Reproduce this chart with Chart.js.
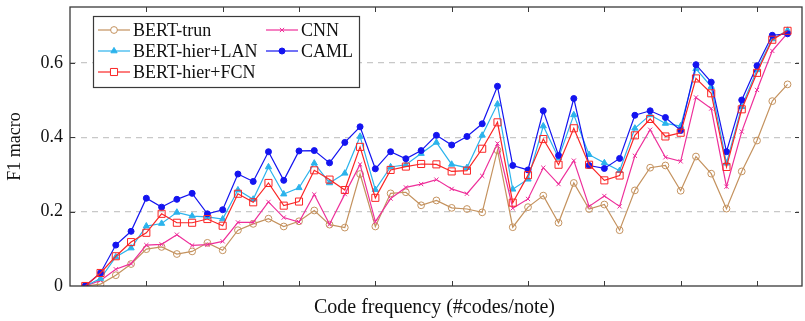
<!DOCTYPE html>
<html>
<head>
<meta charset="utf-8">
<script src="https://cdn.jsdelivr.net/npm/chart.js@4.4.1/dist/chart.umd.min.js"></script>
<style>
  html, body { margin: 0; padding: 0; background: #fff; }
  #wrap { position: relative; width: 805px; height: 321px; }
</style>
</head>
<body>
<div id="wrap"><canvas id="chart" width="805" height="321"></canvas></div>
<script>
// code frequency bins (x positions, no tick labels on the axis)
const codeBins = [1, 2, 3, 4, 5, 6, 7, 8, 9, 10, 11, 12, 13, 14, 15, 16, 17, 18, 19, 20,
  21, 22, 23, 24, 25, 26, 27, 28, 29, 30, 31, 32, 33, 34, 35, 36, 37, 38, 39, 40,
  41, 42, 43, 44, 45, 46, 47];
const xTicks = [5, 10, 15, 20, 25, 30, 35, 40, 45];
const yTicks = [0, 0.2, 0.4, 0.6];

const bertTrun = [0, 0.005, 0.029, 0.059, 0.099, 0.105, 0.086, 0.093, 0.116, 0.096,
  0.150, 0.167, 0.181, 0.160, 0.174, 0.203, 0.165, 0.157, 0.301, 0.160,
  0.249, 0.252, 0.217, 0.230, 0.210, 0.207, 0.198, 0.365, 0.158, 0.212,
  0.243, 0.170, 0.277, 0.207, 0.219, 0.150, 0.257, 0.318, 0.324, 0.256,
  0.348, 0.302, 0.208, 0.308, 0.391, 0.497, 0.542];
const bertLan = [0, 0.020, 0.078, 0.102, 0.161, 0.168, 0.198, 0.188, 0.186, 0.180,
  0.258, 0.233, 0.320, 0.247, 0.264, 0.330, 0.277, 0.303, 0.402, 0.259,
  0.320, 0.326, 0.356, 0.386, 0.327, 0.318, 0.405, 0.489, 0.260, 0.287,
  0.430, 0.344, 0.460, 0.353, 0.331, 0.310, 0.424, 0.460, 0.437, 0.430,
  0.584, 0.536, 0.330, 0.482, 0.581, 0.664, 0.687];
const bertFcn = [0, 0.035, 0.080, 0.118, 0.143, 0.194, 0.170, 0.170, 0.180, 0.162,
  0.248, 0.225, 0.277, 0.216, 0.227, 0.311, 0.286, 0.258, 0.374, 0.237,
  0.312, 0.321, 0.328, 0.327, 0.308, 0.310, 0.369, 0.440, 0.224, 0.298,
  0.395, 0.326, 0.424, 0.326, 0.284, 0.297, 0.405, 0.449, 0.402, 0.412,
  0.558, 0.518, 0.320, 0.475, 0.573, 0.662, 0.686];
const cnn = [0, 0.015, 0.045, 0.060, 0.110, 0.112, 0.138, 0.109, 0.111, 0.120,
  0.171, 0.171, 0.226, 0.184, 0.172, 0.246, 0.166, 0.247, 0.327, 0.173,
  0.235, 0.265, 0.274, 0.286, 0.261, 0.248, 0.296, 0.383, 0.209, 0.234,
  0.318, 0.274, 0.337, 0.214, 0.242, 0.214, 0.350, 0.420, 0.346, 0.335,
  0.507, 0.477, 0.267, 0.415, 0.527, 0.632, 0.680];
const caml = [0, 0.035, 0.110, 0.147, 0.236, 0.212, 0.233, 0.249, 0.194, 0.205,
  0.301, 0.281, 0.361, 0.284, 0.363, 0.364, 0.331, 0.386, 0.428, 0.315,
  0.361, 0.342, 0.364, 0.405, 0.379, 0.402, 0.436, 0.537, 0.324, 0.312,
  0.471, 0.351, 0.504, 0.324, 0.316, 0.343, 0.459, 0.471, 0.453, 0.418,
  0.595, 0.548, 0.361, 0.500, 0.592, 0.674, 0.678];

const SERIF = '"Liberation Serif", "DejaVu Serif", serif';

function toPoints(arr) {
  return arr.map((v, i) => ({ x: codeBins[i], y: v }));
}

// series styles: [label, data, color, pointStyle, radius, filled, drawOrder, legendCol, legendRow]
const series = [
  ['BERT-trun', bertTrun, '#c4925e', 'circle', 3.4, false, 5, 0, 0],
  ['CNN', cnn, '#ee2f9a', 'crossRot', 3, false, 4, 1, 0],
  ['BERT-hier+LAN', bertLan, '#2bb3ec', 'triangle', 3.6, true, 3, 0, 1],
  ['CAML', caml, '#1414f0', 'circle', 3, true, 2, 1, 1],
  ['BERT-hier+FCN', bertFcn, '#fa2525', 'rect', 5, false, 1, 0, 2]
];

const datasets = series.map(s => ({
  label: s[0],
  data: toPoints(s[1]),
  borderColor: s[2],
  backgroundColor: s[5] ? s[2] : 'rgba(255,255,255,0)',
  pointBorderColor: s[2],
  pointBackgroundColor: s[5] ? s[2] : 'rgba(255,255,255,0)',
  pointStyle: s[3],
  pointRadius: s[4],
  pointBorderWidth: 1,
  borderWidth: 1.2,
  tension: 0,
  order: s[6]
}));

// frame, inward ticks and the two-column legend
const framePlugin = {
  id: 'frame',
  afterDraw(chart) {
    const { ctx, chartArea: a, scales } = chart;
    ctx.save();
    ctx.strokeStyle = '#3a3a3a';
    ctx.lineWidth = 1.3;
    ctx.strokeRect(a.left, a.top, a.right - a.left + 3, a.bottom - a.top);
    ctx.lineWidth = 1;
    xTicks.forEach(t => {
      const px = Math.round(scales.x.getPixelForValue(t)) + 0.5;
      ctx.beginPath();
      ctx.moveTo(px, a.bottom); ctx.lineTo(px, a.bottom - 5);
      ctx.moveTo(px, a.top); ctx.lineTo(px, a.top + 5);
      ctx.stroke();
    });
    yTicks.forEach(t => {
      if (t === 0) return;
      const py = Math.round(scales.y.getPixelForValue(t)) + 0.5;
      ctx.beginPath();
      ctx.moveTo(a.left, py); ctx.lineTo(a.left + 5, py);
      ctx.moveTo(a.right, py); ctx.lineTo(a.right - 4, py);
      ctx.stroke();
    });

    // legend box
    const box = { x: 93, y: 16, w: 266, h: 71 };
    ctx.fillStyle = '#fff';
    ctx.fillRect(box.x, box.y, box.w, box.h);
    ctx.strokeStyle = '#3a3a3a';
    ctx.lineWidth = 1.2;
    ctx.strokeRect(box.x + 0.5, box.y + 0.5, box.w, box.h);
    const colX = [98, 266];
    const rowY = [30, 51, 72];
    ctx.font = '18px ' + SERIF;
    ctx.textBaseline = 'middle';
    series.forEach(s => {
      const x0 = colX[s[7]];
      const y0 = rowY[s[8]];
      ctx.strokeStyle = s[2];
      ctx.lineWidth = 1.2;
      ctx.beginPath();
      ctx.moveTo(x0, y0); ctx.lineTo(x0 + 32, y0);
      ctx.stroke();
      ctx.fillStyle = s[5] ? s[2] : '#fff';
      ctx.lineWidth = 1;
      Chart.helpers.drawPoint(ctx, { pointStyle: s[3], radius: s[4], borderWidth: 1, rotation: 0 }, x0 + 16, y0);
      ctx.fillStyle = '#111';
      ctx.fillText(s[0], x0 + 35, y0 + 1);
    });
    ctx.restore();
  }
};

new Chart(document.getElementById('chart'), {
  type: 'line',
  data: { datasets: datasets },
  options: {
    responsive: false,
    animation: false,
    layout: { padding: { top: 7, right: 0, bottom: 0, left: 0 } },
    plugins: { legend: { display: false }, tooltip: { enabled: false } },
    scales: {
      x: {
        type: 'linear',
        min: 0,
        max: 47.75,
        afterFit(scale) {
          scale.height = 35;
          scale.paddingLeft = 0;
          scale.paddingRight = 0;
        },
        ticks: { display: false },
        grid: { display: false },
        border: { display: false },
        title: {
          display: true,
          text: 'Code frequency (#codes/note)',
          color: '#111',
          font: { family: SERIF, size: 20 },
          padding: { top: 0, bottom: 1 }
        }
      },
      y: {
        min: 0,
        max: 0.75,
        afterFit(scale) {
          scale.width = 70;
          scale.paddingTop = 0;
          scale.paddingBottom = 0;
        },
        afterBuildTicks(scale) { scale.ticks = yTicks.map(v => ({ value: v })); },
        ticks: {
          padding: 7,
          color: '#111',
          font: { family: SERIF, size: 18 },
          callback: v => (v === 0 ? '0' : v.toFixed(1))
        },
        grid: {
          drawTicks: false,
          color: ctx => (ctx.tick && ctx.tick.value === 0 ? 'rgba(0,0,0,0)' : '#c8c8c8'),
          lineWidth: 1.2
        },
        border: { display: false, dash: [6, 5] },
        title: {
          display: true,
          text: 'F1 macro',
          color: '#111',
          font: { family: SERIF, size: 18 },
          padding: { top: 4, bottom: 0 }
        }
      }
    }
  },
  plugins: [framePlugin]
});
</script>
</body>
</html>
